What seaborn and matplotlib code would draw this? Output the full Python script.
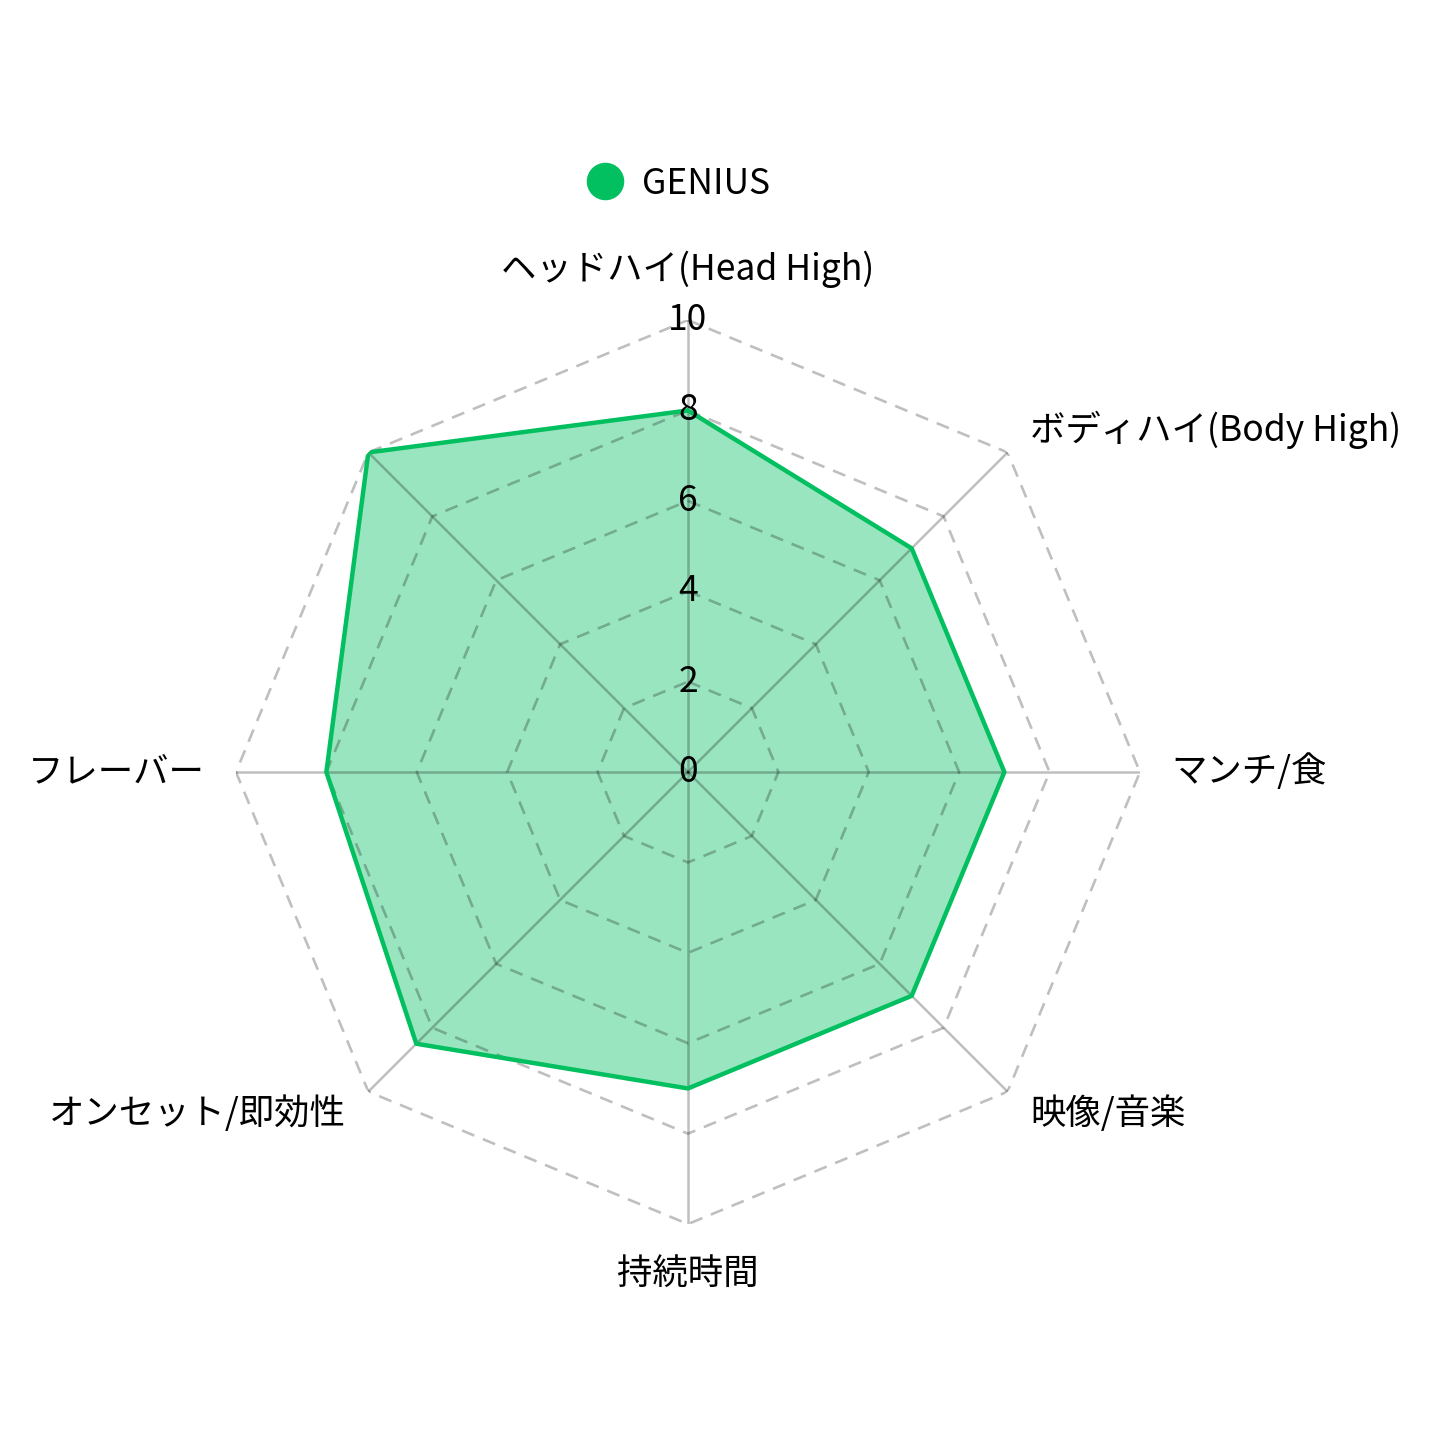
import numpy as np
import pandas as pd
import seaborn as sns
import matplotlib.pyplot as plt
from matplotlib.lines import Line2D

categories = ["ヘッドハイ(Head High)", "ボディハイ(Body High)", "マンチ/食", "映像/音楽",
              "持続時間", "オンセット/即効性", "フレーバー", ""]
values = [8, 7, 7, 7, 7, 8.5, 8, 10]
ticks = [0, 2, 4, 6, 8, 10]
series_name = "GENIUS"

sns.set_theme(style="white")
plt.rcParams['font.family'] = ['Noto Sans CJK JP', 'DejaVu Sans']

green = "#02BF60"
fs = 25.5
n = len(categories)
angles = np.linspace(0, 2 * np.pi, n, endpoint=False)

df = pd.DataFrame({'angle': np.append(angles, 2 * np.pi), 'value': values + values[:1]})

fig = plt.figure(figsize=(14.45, 14.45), dpi=100)
ax = fig.add_axes([0.4761 - 0.3128, 0.4657 - 0.3128, 0.6256, 0.6256], projection='polar')
ax.set_theta_zero_location('N')
ax.set_theta_direction(-1)
ax.set_ylim(0, 10)
ax.grid(False)
ax.spines['polar'].set_visible(False)
ax.set_xticks([])
ax.set_yticks([])

# filled area and outline
ax.fill(df['angle'], df['value'], color=green, alpha=0.4, lw=0, zorder=1)
sns.lineplot(data=df, x='angle', y='value', sort=False, color=green, lw=3.2, ax=ax, zorder=4)

# polygon grid
closed = np.append(angles, angles[0])
for t in ticks[1:]:
    ax.plot(closed, [t] * len(closed), color='black', alpha=0.25, lw=1.9,
            ls=(0, (5, 3.5)), zorder=2)
for a in angles:
    ax.plot([a, a], [0, 10], color='black', alpha=0.25, lw=1.8, zorder=2)

# radial tick labels on the top axis
for t in ticks:
    ax.text(0, t, str(t), ha='center', va='center', fontsize=fs, color='black', zorder=5)

# category labels
for a, lab in zip(angles, categories):
    s, c = np.sin(a), np.cos(a)
    ha = 'center' if abs(s) < 1e-6 else ('left' if s > 0 else 'right')
    va = 'center'
    if abs(s) < 1e-6:
        va = 'bottom' if c > 0 else 'top'
    ax.text(a, 10.7, lab, ha=ha, va=va, fontsize=fs, color='black')

handle = Line2D([], [], marker='o', color=green, ls='none', markersize=26)
fig.legend([handle], [series_name], loc='center', bbox_to_anchor=(0.4635, 0.873),
           frameon=False, fontsize=fs, handletextpad=0.05, labelcolor='black')

fig.savefig('out.png', dpi=100, facecolor='white')
